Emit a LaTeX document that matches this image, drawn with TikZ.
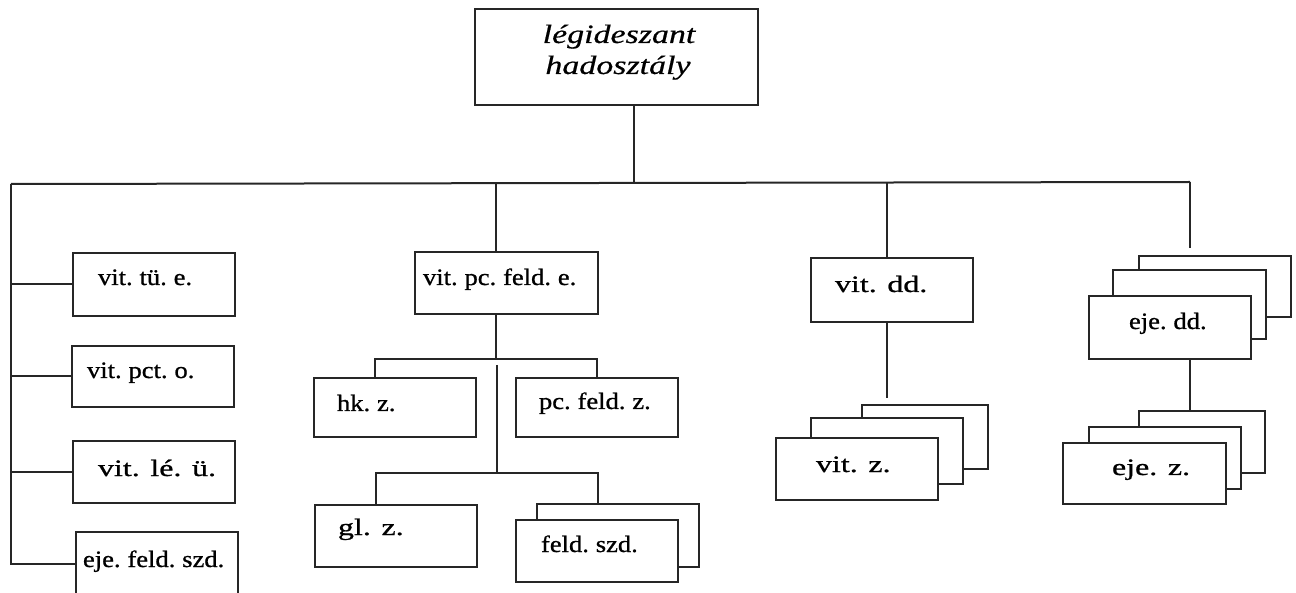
\documentclass[tikz,border=0pt]{standalone}
\usepackage{fontspec}
\setmainfont{Liberation Serif}
\newfontfamily\fwide[FakeStretch=1.36,FakeBold=0.9]{Liberation Serif}
\newfontfamily\ftight[FakeStretch=1.13,WordSpace=0.7,FakeBold=0.9]{Liberation Serif}
\newfontfamily\ftop[FakeStretch=1.28,FakeBold=0.6]{Liberation Serif Italic}
\usetikzlibrary{calc}
\begin{document}
\begin{tikzpicture}[x=1pt,y=-1pt,
  line width=2pt,
  box/.style={draw=black!85, fill=white, rectangle, inner sep=0pt, line width=2pt},
  wl/.style={anchor=base west, inner sep=0pt, font=\fwide\fontsize{23.5}{27}\selectfont},
  tl/.style={anchor=base west, inner sep=0pt, font=\ftight\fontsize{23.5}{27}\selectfont},
  conn/.style={draw=black!85, line width=2pt}]
\useasboundingbox (0,0) rectangle (1296,593);

% ---- coordinates for the connector grid
\coordinate (b0) at (634,183);
\coordinate (bl) at (11,184);
\coordinate (br) at (1190,182);
\coordinate (b1) at (496,183);
\coordinate (b2) at (887,183);
\coordinate (m1) at (496,359);
\coordinate (m1l) at (375,359);
\coordinate (m1r) at (597,359);
\coordinate (m2t) at (497,365);
\coordinate (m2) at (497,473);
\coordinate (m2l) at (376,473);
\coordinate (m2r) at (598,473);

% ---- boxes
\node[box, minimum width=283, minimum height=96] (top) at (616.5,57) {};
\node[inner sep=0pt, anchor=base, font=\ftop\fontsize{26.5}{31}\selectfont] (toptext) at (619,43) {légideszant};
\node[inner sep=0pt, anchor=base, font=\ftop\fontsize{26.5}{31}\selectfont] (toptext2) at (618,74) {hadosztály};

% connectors
\draw[conn] (top.south -| b0) -- (b0);
\draw[conn] (bl) -- (br);

\node[box, minimum width=162, minimum height=63] (tue) at (154,284.5) {};
\node[box, minimum width=162, minimum height=61] (pcto) at (153,376.5) {};
\node[box, minimum width=162, minimum height=62] (leu) at (154,472) {};
\node[box, minimum width=162, minimum height=63] (efs) at (157,563.5) {};

\draw[conn] (bl) |- (efs.west);
\draw[conn] (bl |- tue.west) -- (tue.west);
\draw[conn] (bl |- pcto.west) -- (pcto.west);
\draw[conn] (bl |- leu.west) -- (leu.west);

\node[tl] (tuet) at (97,285) {vit. tü. e.};
\node[tl] (pctot) at (86,378) {vit. pct. o.};
\node[wl] (leut) at (97,476) {vit. lé. ü.};
\node[tl] (efst) at (82,567) {eje. feld. szd.};

% middle branch
\node[box, minimum width=183, minimum height=62] (vpfe) at (506.5,283) {};
\node[tl] (vpfet) at (422,285) {vit. pc. feld. e.};
\draw[conn] (b1) -- (b1 |- vpfe.north);
\draw[conn] (m1 |- vpfe.south) -- (m1);

\node[box, minimum width=162, minimum height=59] (hk) at (395,407.5) {};
\node[box, minimum width=162, minimum height=59] (pcfz) at (597,407.5) {};
\draw[conn] (m1l |- hk.north) -- (m1l) -- (m1r) -- (m1r |- pcfz.north);
\node[tl] (hkt) at (336,411) {hk. z.};
\node[tl] (pcfzt) at (538,409) {pc. feld. z.};

\draw[conn] (m2t) -- (m2);
\node[box, minimum width=162, minimum height=62] (gl) at (396,536) {};
\node[box, minimum width=162, minimum height=63] (fszb) at (618,535.5) {};
\node[box, minimum width=162, minimum height=62] (fsz) at (597,551) {};
\draw[conn] (m2l |- gl.north) -- (m2l) -- (m2r) -- (m2r |- fszb.north);
\node[wl] (glt) at (337,535) {gl. z.};
\node[tl] (fszt) at (540,552) {feld. szd.};

% vit. dd. branch
\node[box, minimum width=162, minimum height=64] (vitdd) at (892,290) {};
\node[wl] (vitddt) at (834,292) {vit. dd.};
\draw[conn] (b2) -- (b2 |- vitdd.north);
\node[box, minimum width=126, minimum height=64] (vzb) at (925,437) {};
\node[box, minimum width=152, minimum height=66] (vzm) at (887,451) {};
\node[box, minimum width=162, minimum height=62] (vz) at (857,469) {};
\draw[conn, shorten >=6pt] (b2 |- vitdd.south) -- (b2 |- vzb.north);
\node[wl] (vzt) at (815,472) {vit. z.};

% eje. dd. branch
\node[box, minimum width=152, minimum height=61] (eddb) at (1215,286.5) {};
\node[box, minimum width=153, minimum height=69] (eddm) at (1189.5,304.5) {};
\node[box, minimum width=162, minimum height=63] (edd) at (1170,327.5) {};
\draw[conn, shorten >=7pt] (br) -- (br |- eddb.north);
\node[tl] (eddt) at (1128,329) {eje. dd.};

\node[box, minimum width=126, minimum height=62] (ezb) at (1202,442) {};
\node[box, minimum width=152, minimum height=62] (ezm) at (1165,458) {};
\node[box, minimum width=163, minimum height=61] (ez) at (1144.5,473.5) {};
\draw[conn] (br |- edd.south) -- (br |- ezb.north);
\node[wl] (ezt) at (1111,475) {eje. z.};
\end{tikzpicture}
\end{document}
